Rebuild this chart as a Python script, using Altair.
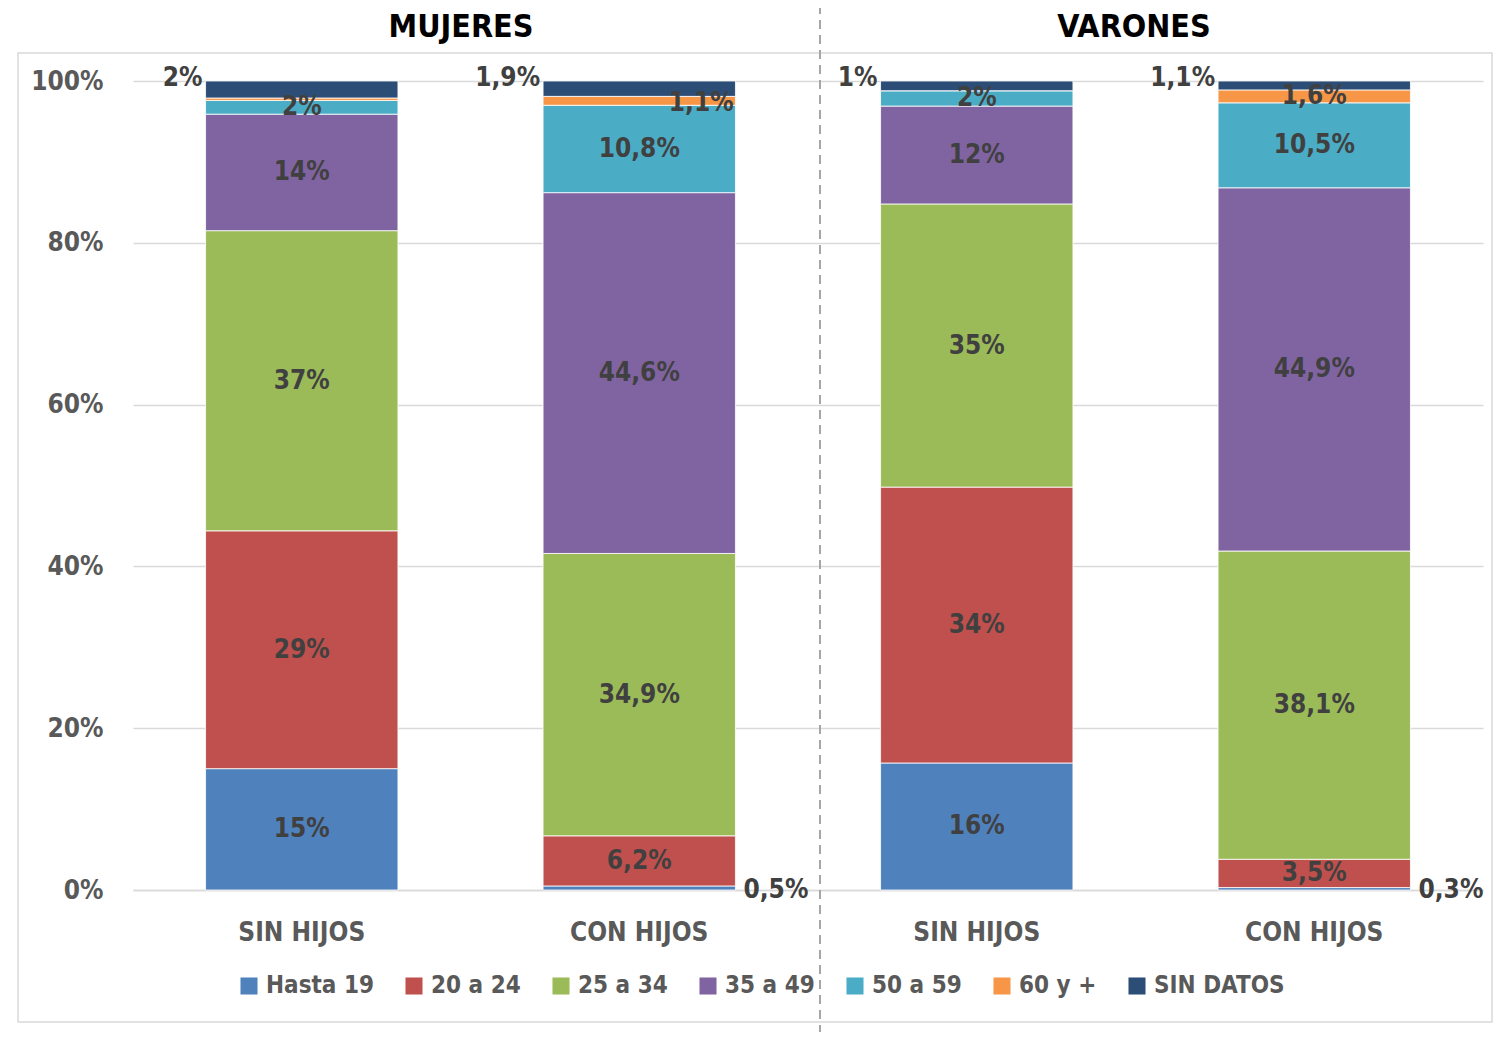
import altair as alt
import pandas as pd

groups = ["M_SIN", "M_CON", "V_SIN", "V_CON"]
group_names = ["SIN HIJOS", "CON HIJOS", "SIN HIJOS", "CON HIJOS"]
categories = ["Hasta 19", "20 a 24", "25 a 34", "35 a 49", "50 a 59", "60 y +", "SIN DATOS"]
colors = ["#4F81BD", "#C0504D", "#9BBB59", "#8064A2", "#4BACC6", "#F79646", "#2C4D75"]

m_sin = [15.0, 29.4, 37.1, 14.4, 1.7, 0.3, 2.1]
m_con = [0.5, 6.2, 34.9, 44.6, 10.8, 1.1, 1.9]
v_sin = [15.7, 34.1, 35.0, 12.1, 1.9, 0.0, 1.2]
v_con = [0.3, 3.5, 38.1, 44.9, 10.5, 1.6, 1.1]

m_sin_labels = ["15%", "29%", "37%", "14%", "2%", "", "2%"]
m_con_labels = ["0,5%", "6,2%", "34,9%", "44,6%", "10,8%", "1,1%", "1,9%"]
v_sin_labels = ["16%", "34%", "35%", "12%", "2%", "", "1%"]
v_con_labels = ["0,3%", "3,5%", "38,1%", "44,9%", "10,5%", "1,6%", "1,1%"]

panel_titles = ["MUJERES", "VARONES"]

FONT = "Liberation Sans Narrow, Arial Narrow, DejaVu Sans Condensed, sans-serif"
FS = 26

rows = []
for g, vals, labs in zip(groups, [m_sin, m_con, v_sin, v_con],
                         [m_sin_labels, m_con_labels, v_sin_labels, v_con_labels]):
    cum = 0.0
    for i, (c, v, l) in enumerate(zip(categories, vals, labs)):
        if c == "SIN DATOS":
            place = "left"
        elif c == "Hasta 19" and g.endswith("CON"):
            place = "right"
        elif c == "60 y +" and g == "M_CON":
            place = "offset"
        else:
            place = "center"
        rows.append(dict(group=g, cat=c, order=i, y0=cum, y1=cum + v,
                         mid=cum + v / 2, label=l, place=place))
        cum += v
df = pd.DataFrame(rows)

label_map = "{" + ",".join(f"'{g}':'{n}'" for g, n in zip(groups, group_names)) + "}"

x_scale = alt.Scale(domain=groups, paddingInner=0.43, paddingOuter=0.215)
y_scale = alt.Scale(domain=[0, 100])

bars = alt.Chart(df).mark_bar(stroke="white", strokeWidth=0.8).encode(
    x=alt.X("group:N", scale=x_scale, sort=groups,
            axis=alt.Axis(title=None, labelExpr=f"{label_map}[datum.value]",
                          labelFont=FONT, labelFontSize=FS, labelFontWeight="bold",
                          labelColor="#595959", labelPadding=29, ticks=False,
                          domainColor="#d9d9d9", domainWidth=1.5, labelAngle=0)),
    y=alt.Y("y0:Q", scale=y_scale,
            axis=alt.Axis(title=None, values=[0, 20, 40, 60, 80, 100],
                          labelExpr="datum.value + '%'", labelFont=FONT,
                          labelFontSize=FS, labelFontWeight="bold", labelColor="#595959",
                          labelPadding=30, ticks=False, domain=False,
                          gridColor="#d9d9d9", gridWidth=1.5)),
    y2="y1:Q",
    color=alt.Color("cat:N", scale=alt.Scale(domain=categories, range=colors),
                    legend=alt.Legend(title=None, orient="none", direction="horizontal",
                                      legendX=104, legendY=893, symbolType="square",
                                      symbolSize=290, symbolStrokeWidth=0,
                                      labelFont=FONT, labelFontSize=24,
                                      labelFontWeight="bold", labelColor="#595959",
                                      labelOffset=5, columnPadding=28, labelLimit=300)),
    order=alt.Order("order:Q"),
)

txt = dict(font=FONT, fontSize=FS, fontWeight="bold", color="#404040")

center = alt.Chart(df).transform_filter(
    "datum.place == 'center' && datum.label != ''"
).mark_text(baseline="middle", align="center", **txt).encode(
    x=alt.X("group:N", scale=x_scale, sort=groups), y=alt.Y("mid:Q", scale=y_scale),
    text="label:N")

offset = alt.Chart(df).transform_filter("datum.place == 'offset'").mark_text(
    baseline="middle", align="center", dx=62, dy=2, **txt).encode(
    x=alt.X("group:N", scale=x_scale, sort=groups), y=alt.Y("mid:Q", scale=y_scale),
    text="label:N")

left = alt.Chart(df).transform_filter("datum.place == 'left'").mark_text(
    baseline="middle", align="right", dx=-3, dy=-3, **txt).encode(
    x=alt.X("group:N", scale=x_scale, sort=groups, bandPosition=0),
    y=alt.Y("y1:Q", scale=y_scale), text="label:N")

right = alt.Chart(df).transform_filter("datum.place == 'right'").mark_text(
    baseline="middle", align="left", dx=8, dy=0, **txt).encode(
    x=alt.X("group:N", scale=x_scale, sort=groups, bandPosition=1),
    y=alt.Y("y0:Q", scale=y_scale), text="label:N")

one = pd.DataFrame({"k": [0]})
titles = alt.Chart(pd.DataFrame({"t": panel_titles, "xp": [328, 1001]})).mark_text(
    font=FONT, fontSize=32, fontWeight="bold", color="black", baseline="middle"
).encode(x=alt.X("xp:Q", scale=None), y=alt.value(-54), text="t:N")

divider = alt.Chart(one).mark_rule(color="#a6a6a6", strokeWidth=2, strokeDash=[9, 6]).encode(
    x=alt.value(687), y=alt.value(-76), y2=alt.value(960))

border = alt.Chart(one).mark_rect(fillOpacity=0, stroke="#d9d9d9", strokeWidth=1.5).encode(
    x=alt.value(-115), x2=alt.value(1359), y=alt.value(-28), y2=alt.value(941))

chart = alt.layer(border, bars, center, offset, left, right, titles, divider).properties(
    width=1350, height=809,
    autosize=alt.AutoSizeParams(type="none"),
    padding={"left": 125, "top": 73, "right": 10, "bottom": 142},
).configure_view(stroke=None)

chart.save("out.html", embed_options={"renderer": "svg", "actions": False})
